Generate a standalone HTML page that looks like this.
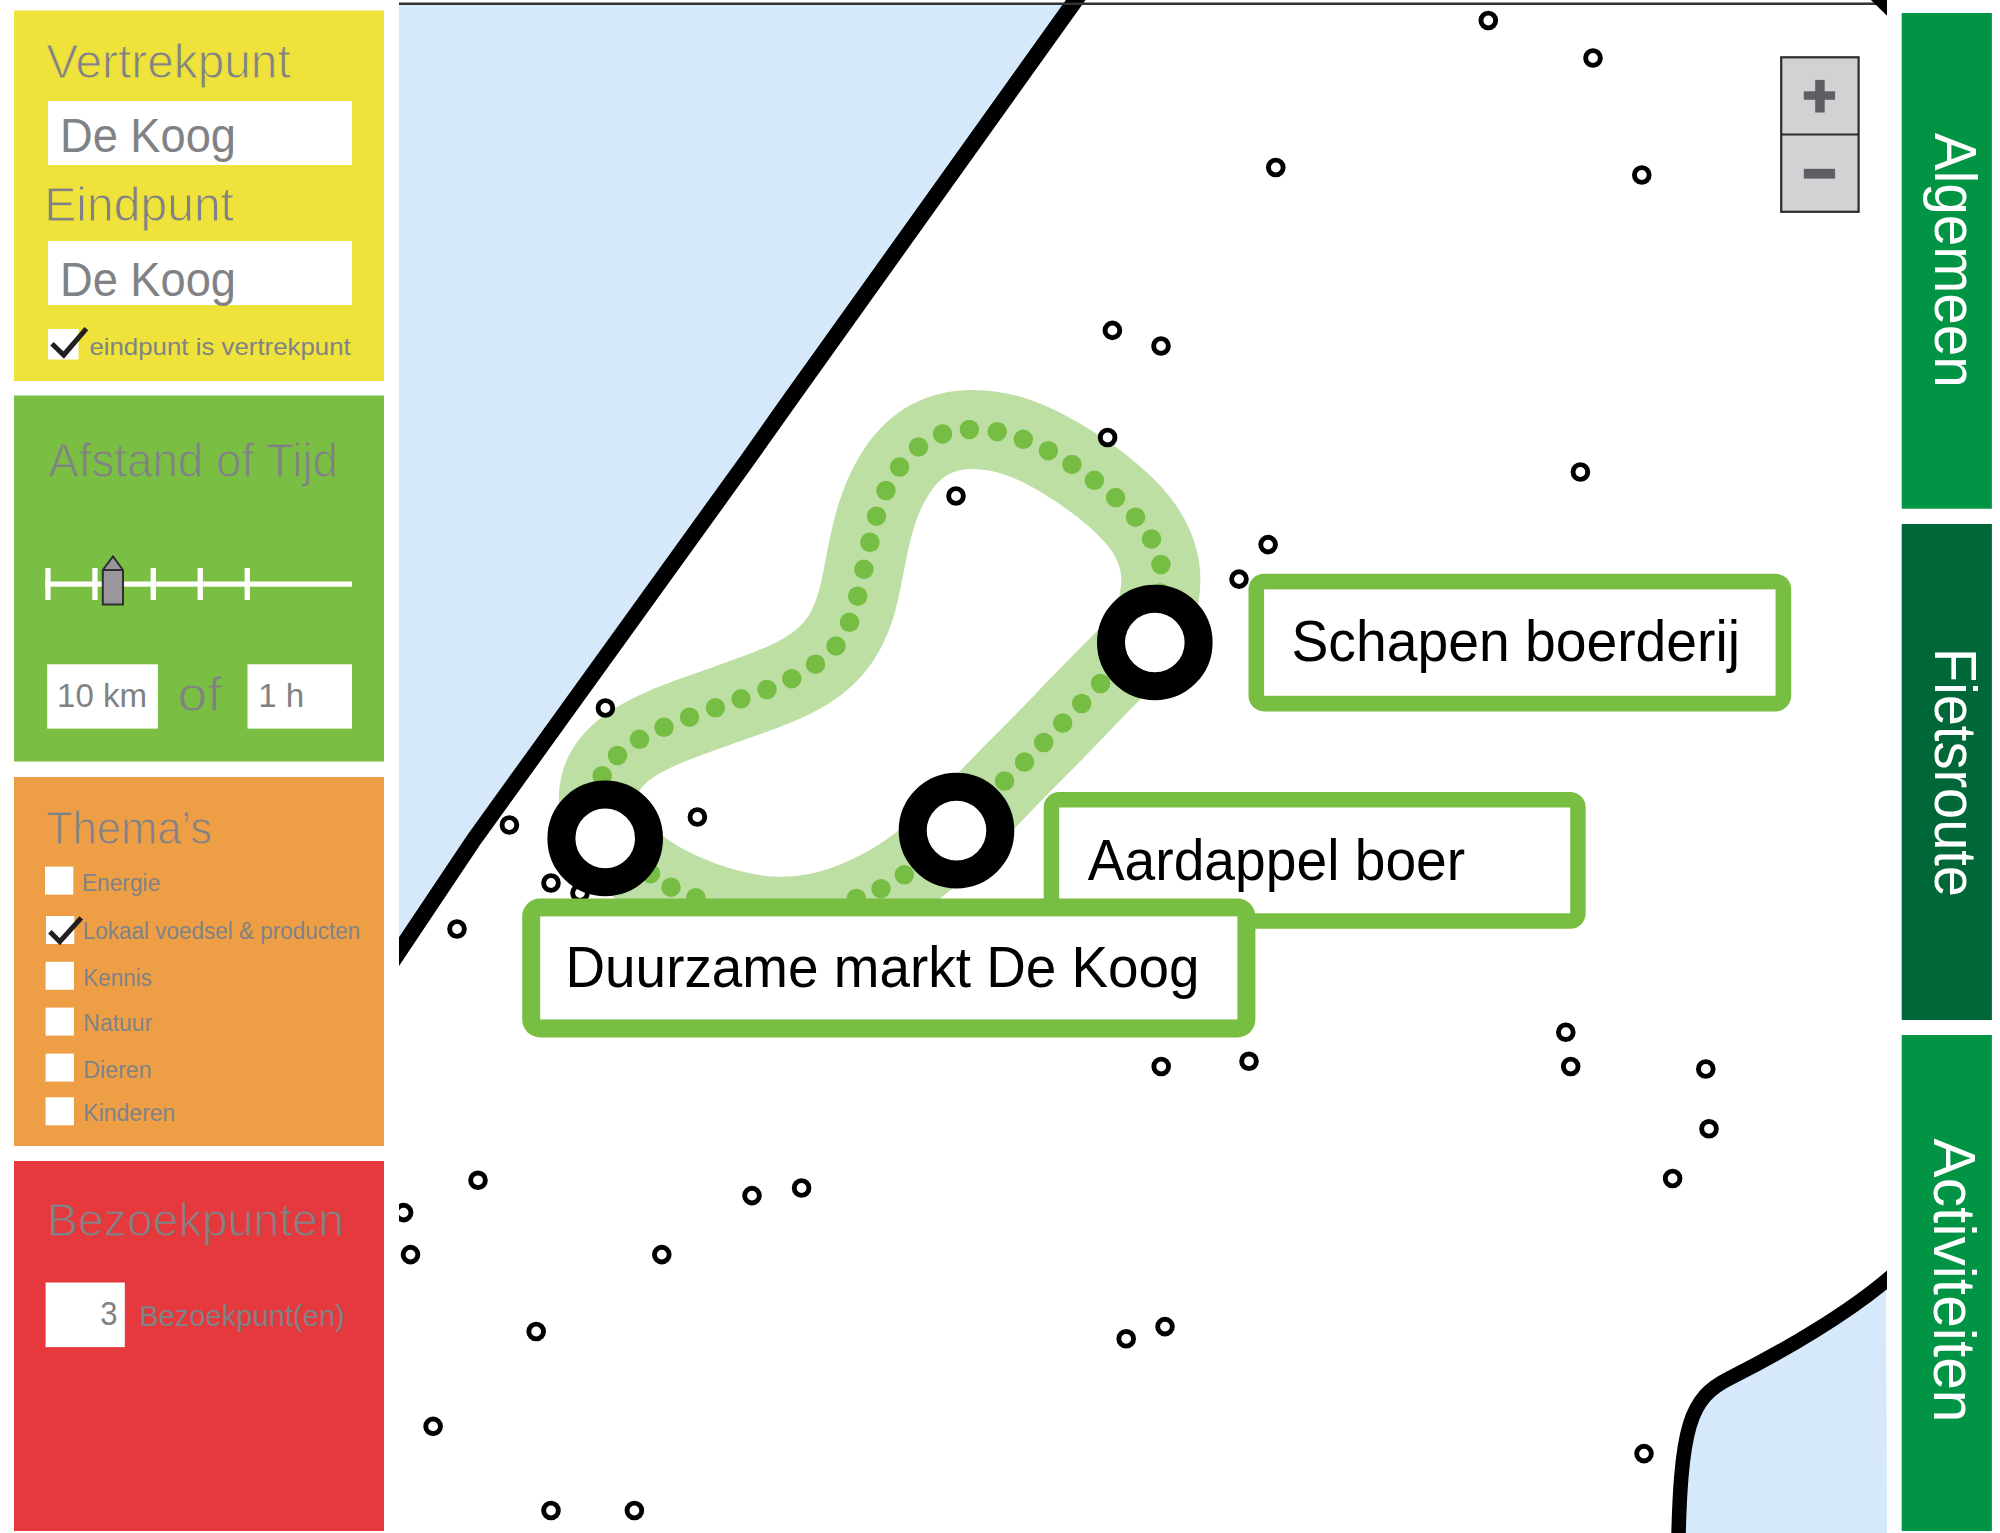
<!DOCTYPE html>
<html><head><meta charset="utf-8"><title>Fietsroute planner</title><style>
html,body{margin:0;padding:0;background:#fff;width:2000px;height:1533px;overflow:hidden}
svg{display:block}
text{font-family:"Liberation Sans", sans-serif}
</style></head><body>
<svg width="2000" height="1533" viewBox="0 0 2000 1533">
<defs><clipPath id="mapclip"><rect x="399" y="0" width="1488" height="1533"/></clipPath></defs>
<rect x="14" y="10.5" width="370" height="370.5" fill="#EEE23B"/>
<rect x="14" y="395.5" width="370" height="366" fill="#7ABF43"/>
<rect x="14" y="777" width="370" height="369" fill="#EE9F45"/>
<rect x="14" y="1161" width="370" height="370" fill="#E6393D"/>
<rect x="48" y="101" width="304" height="64" fill="#fff"/>
<rect x="48" y="241" width="304" height="64" fill="#fff"/>
<rect x="48" y="329" width="30.5" height="30.5" fill="#fff"/>
<polyline points="52,343.8 63.7,355 86.4,328.6" fill="none" stroke="#231F20" stroke-width="5"/>
<text x="46.30" y="77.6" font-size="47.5" fill="#808285" stroke="#EEE23B" stroke-width="1.0" textLength="244.40" lengthAdjust="spacingAndGlyphs">Vertrekpunt</text>
<text x="60.00" y="152.4" font-size="47.5" fill="#808285" textLength="176.00" lengthAdjust="spacingAndGlyphs">De Koog</text>
<text x="44.20" y="220.5" font-size="48" fill="#808285" stroke="#EEE23B" stroke-width="1.0" textLength="189.80" lengthAdjust="spacingAndGlyphs">Eindpunt</text>
<text x="60.00" y="296.2" font-size="47.5" fill="#808285" textLength="176.00" lengthAdjust="spacingAndGlyphs">De Koog</text>
<text x="89.40" y="355" font-size="24.5" fill="#808285" textLength="261.40" lengthAdjust="spacingAndGlyphs">eindpunt is vertrekpunt</text>
<text x="48.20" y="477" font-size="48" fill="#808285" stroke="#7ABF43" stroke-width="1.0" textLength="289.80" lengthAdjust="spacingAndGlyphs">Afstand of Tijd</text>
<rect x="45" y="581.5" width="307" height="5.2" fill="#fff"/>
<rect x="45.3" y="568" width="5.3" height="32" fill="#fff"/>
<rect x="92.3" y="568" width="5.3" height="32" fill="#fff"/>
<rect x="150.6" y="568" width="5.3" height="32" fill="#fff"/>
<rect x="197.6" y="568" width="5.3" height="32" fill="#fff"/>
<rect x="244.6" y="568" width="5.3" height="32" fill="#fff"/>
<path d="M102.8,570 L113,556.5 L123,570 L123,604.5 L102.8,604.5 Z" fill="#99979C" stroke="#2F2F31" stroke-width="2"/>
<line x1="102.8" y1="570" x2="123" y2="570" stroke="#2F2F31" stroke-width="2"/>
<rect x="47.2" y="664.3" width="110.7" height="64.3" fill="#fff"/>
<rect x="247.5" y="664.3" width="104.5" height="64.3" fill="#fff"/>
<text x="57.00" y="707" font-size="32.5" fill="#808285" textLength="90.00" lengthAdjust="spacingAndGlyphs">10 km</text>
<text x="177.60" y="711" font-size="48" fill="#808285" stroke="#7ABF43" stroke-width="1.0" textLength="44.60" lengthAdjust="spacingAndGlyphs">of</text>
<text x="258.20" y="707" font-size="32.5" fill="#808285" textLength="46.00" lengthAdjust="spacingAndGlyphs">1 h</text>
<text x="46.00" y="844" font-size="46.5" fill="#808285" stroke="#EE9F45" stroke-width="1.0" textLength="166.00" lengthAdjust="spacingAndGlyphs">Thema’s</text>
<rect x="45" y="866.6" width="28.3" height="28" fill="#fff"/>
<rect x="46" y="916" width="28.3" height="28" fill="#fff"/>
<rect x="45.6" y="961.8" width="28.3" height="28" fill="#fff"/>
<rect x="45.6" y="1007.6" width="28.3" height="28" fill="#fff"/>
<rect x="45.6" y="1053.6" width="28.3" height="28" fill="#fff"/>
<rect x="45.6" y="1097.3" width="28.3" height="28" fill="#fff"/>
<text x="81.90" y="890.5" font-size="23" fill="#808285" textLength="78.40" lengthAdjust="spacingAndGlyphs">Energie</text>
<text x="82.70" y="938.9" font-size="23" fill="#808285" textLength="277.70" lengthAdjust="spacingAndGlyphs">Lokaal voedsel &amp; producten</text>
<text x="83.30" y="986.1" font-size="23" fill="#808285" textLength="68.60" lengthAdjust="spacingAndGlyphs">Kennis</text>
<text x="83.30" y="1031.3" font-size="23" fill="#808285" textLength="69.00" lengthAdjust="spacingAndGlyphs">Natuur</text>
<text x="83.30" y="1077.7" font-size="23" fill="#808285" textLength="68.40" lengthAdjust="spacingAndGlyphs">Dieren</text>
<text x="83.30" y="1121" font-size="23" fill="#808285" textLength="92.10" lengthAdjust="spacingAndGlyphs">Kinderen</text>
<polyline points="49.9,931.8 59.8,941.7 81.25,917.8" fill="none" stroke="#231F20" stroke-width="5"/>
<text x="47.00" y="1235.6" font-size="46.5" fill="#808285" stroke="#E6393D" stroke-width="1.0" textLength="297.00" lengthAdjust="spacingAndGlyphs">Bezoekpunten</text>
<rect x="45.6" y="1282.5" width="79.2" height="64.6" fill="#fff"/>
<text x="100.20" y="1325.2" font-size="33" fill="#808285" textLength="17.20" lengthAdjust="spacingAndGlyphs">3</text>
<text x="139.20" y="1326" font-size="30" fill="#808285" textLength="205.60" lengthAdjust="spacingAndGlyphs">Bezoekpunt(en)</text>
<g clip-path="url(#mapclip)">
<path d="M399,5 L1076,5 L1072,4 L789.9,400 L747.5,460 L473.6,840 L399,952 Z" fill="#D5E9FB"/>
<path d="M1886,1281 C1840,1317 1760,1364 1712,1392 C1690,1405 1679,1443 1678,1533 L1887,1533 Z" fill="#D5E9FB"/>
<path d="M1090,-20 L789.9,400 L747.5,460 L473.6,840 L380,980" fill="none" stroke="#000" stroke-width="16"/>
<path d="M1895,1273 C1850,1313 1780,1353 1730,1378 C1690,1398 1680,1423 1678,1560" fill="none" stroke="#000" stroke-width="14.5"/>
<line x1="399" y1="3.8" x2="1878" y2="3.8" stroke="#333" stroke-width="2.6"/>
<polygon points="1869.9,-1 1887,-1 1887,15.7" fill="#000"/>
<path d="M606.5,829.0 C599.3,814.8 596.6,799.3 599.7,785.7 C602.7,772.1 611.5,760.2 623.1,750.6 C634.7,741.0 649.2,733.7 663.8,727.4 C678.5,721.2 693.3,716.0 708.0,710.8 C722.7,705.6 737.3,700.3 752.0,695.0 C766.8,689.6 781.7,684.1 795.8,676.8 C809.8,669.5 823.0,660.3 833.1,648.7 C843.2,637.0 850.2,622.9 855.0,608.0 C859.8,593.2 862.4,577.5 865.5,561.4 C868.5,545.3 872.0,528.7 877.1,513.0 C882.2,497.3 889.0,482.5 897.7,469.7 C906.4,457.0 917.1,446.4 929.9,439.4 C942.8,432.5 957.7,429.3 973.1,429.4 C988.6,429.4 1004.7,432.7 1019.5,437.9 C1034.3,443.1 1047.8,450.3 1061.4,458.4 C1075.0,466.6 1088.6,475.7 1101.9,486.0 C1115.1,496.4 1128.1,507.9 1138.1,520.4 C1148.1,532.9 1155.1,546.4 1158.4,560.0 C1161.8,573.7 1161.5,587.5 1158.6,600.9 C1155.6,614.4 1150.0,627.6 1141.3,639.7 C1132.6,651.9 1120.8,663.2 1109.4,674.6 C1097.9,686.0 1086.8,697.5 1075.9,708.9 C1065.0,720.2 1054.4,731.3 1043.5,742.4 C1032.6,753.5 1021.4,764.5 1010.5,775.6 C999.7,786.8 989.0,798.0 978.3,809.2 C967.6,820.4 956.9,831.6 945.2,842.5 C933.4,853.4 920.8,864.0 907.1,873.3 C893.5,882.7 878.7,890.8 863.9,897.4 C849.0,904.1 834.1,909.2 818.7,912.4 C803.4,915.6 787.7,916.8 772.1,916.0 C756.4,915.2 740.8,912.3 725.7,908.2 C710.6,904.1 695.9,898.8 681.3,892.1 C666.7,885.5 652.1,877.6 638.9,867.0 C625.7,856.5 613.8,843.3 606.5,829.0 Z" fill="none" stroke="#BDDFA4" stroke-width="79" stroke-linejoin="round"/>
<circle cx="602.2" cy="775.7" r="9.75" fill="#76BD43"/>
<circle cx="617.5" cy="755.5" r="9.75" fill="#76BD43"/>
<circle cx="639.5" cy="739.3" r="9.75" fill="#76BD43"/>
<circle cx="664" cy="727.3" r="9.75" fill="#76BD43"/>
<circle cx="689.5" cy="717.2" r="9.75" fill="#76BD43"/>
<circle cx="715.4" cy="707.8" r="9.75" fill="#76BD43"/>
<circle cx="741" cy="698.8" r="9.75" fill="#76BD43"/>
<circle cx="767" cy="689.5" r="9.75" fill="#76BD43"/>
<circle cx="791.8" cy="678.7" r="9.75" fill="#76BD43"/>
<circle cx="815.5" cy="664.2" r="9.75" fill="#76BD43"/>
<circle cx="836" cy="645.9" r="9.75" fill="#76BD43"/>
<circle cx="849.5" cy="622.3" r="9.75" fill="#76BD43"/>
<circle cx="857.7" cy="596.2" r="9.75" fill="#76BD43"/>
<circle cx="863.9" cy="569.3" r="9.75" fill="#76BD43"/>
<circle cx="869.9" cy="542.3" r="9.75" fill="#76BD43"/>
<circle cx="876.5" cy="516.2" r="9.75" fill="#76BD43"/>
<circle cx="885.9" cy="490.5" r="9.75" fill="#76BD43"/>
<circle cx="899.6" cy="467" r="9.75" fill="#76BD43"/>
<circle cx="918.5" cy="446.9" r="9.75" fill="#76BD43"/>
<circle cx="942.5" cy="433.9" r="9.75" fill="#76BD43"/>
<circle cx="969.4" cy="429.5" r="9.75" fill="#76BD43"/>
<circle cx="997.2" cy="431.7" r="9.75" fill="#76BD43"/>
<circle cx="1023.3" cy="439.3" r="9.75" fill="#76BD43"/>
<circle cx="1048.4" cy="450.7" r="9.75" fill="#76BD43"/>
<circle cx="1071.9" cy="464.4" r="9.75" fill="#76BD43"/>
<circle cx="1094.4" cy="480.3" r="9.75" fill="#76BD43"/>
<circle cx="1115.6" cy="497.6" r="9.75" fill="#76BD43"/>
<circle cx="1135.5" cy="517.2" r="9.75" fill="#76BD43"/>
<circle cx="1151.5" cy="539" r="9.75" fill="#76BD43"/>
<circle cx="1160.9" cy="564.5" r="9.75" fill="#76BD43"/>
<circle cx="1160" cy="593" r="9.75" fill="#76BD43"/>
<circle cx="1100.5" cy="683.5" r="9.75" fill="#76BD43"/>
<circle cx="1081.7" cy="703.5" r="9.75" fill="#76BD43"/>
<circle cx="1062.7" cy="723" r="9.75" fill="#76BD43"/>
<circle cx="1043.7" cy="742.5" r="9.75" fill="#76BD43"/>
<circle cx="1024.5" cy="762" r="9.75" fill="#76BD43"/>
<circle cx="1004.5" cy="781" r="9.75" fill="#76BD43"/>
<circle cx="904.3" cy="874.8" r="9.75" fill="#76BD43"/>
<circle cx="881" cy="888.7" r="9.75" fill="#76BD43"/>
<circle cx="856.3" cy="898.5" r="9.75" fill="#76BD43"/>
<circle cx="695.8" cy="897.7" r="9.75" fill="#76BD43"/>
<circle cx="671" cy="887.2" r="9.75" fill="#76BD43"/>
<circle cx="650.5" cy="873.7" r="9.75" fill="#76BD43"/>
<circle cx="1488.3" cy="20.5" r="7.35" fill="#fff" stroke="#000" stroke-width="4.9"/>
<circle cx="1593" cy="58" r="7.35" fill="#fff" stroke="#000" stroke-width="4.9"/>
<circle cx="1275.8" cy="167.5" r="7.35" fill="#fff" stroke="#000" stroke-width="4.9"/>
<circle cx="1641.8" cy="175" r="7.35" fill="#fff" stroke="#000" stroke-width="4.9"/>
<circle cx="1112.4" cy="330.4" r="7.35" fill="#fff" stroke="#000" stroke-width="4.9"/>
<circle cx="1161" cy="346" r="7.35" fill="#fff" stroke="#000" stroke-width="4.9"/>
<circle cx="1107.6" cy="437.5" r="7.35" fill="#fff" stroke="#000" stroke-width="4.9"/>
<circle cx="1580.4" cy="472" r="7.35" fill="#fff" stroke="#000" stroke-width="4.9"/>
<circle cx="956" cy="496" r="7.35" fill="#fff" stroke="#000" stroke-width="4.9"/>
<circle cx="1268.1" cy="544.6" r="7.35" fill="#fff" stroke="#000" stroke-width="4.9"/>
<circle cx="1239" cy="579.1" r="7.35" fill="#fff" stroke="#000" stroke-width="4.9"/>
<circle cx="605.4" cy="708" r="7.35" fill="#fff" stroke="#000" stroke-width="4.9"/>
<circle cx="509.4" cy="825" r="7.35" fill="#fff" stroke="#000" stroke-width="4.9"/>
<circle cx="697.4" cy="817" r="7.35" fill="#fff" stroke="#000" stroke-width="4.9"/>
<circle cx="551" cy="883" r="7.35" fill="#fff" stroke="#000" stroke-width="4.9"/>
<circle cx="580" cy="893" r="7.35" fill="#fff" stroke="#000" stroke-width="4.9"/>
<circle cx="457" cy="929" r="7.35" fill="#fff" stroke="#000" stroke-width="4.9"/>
<circle cx="1565.8" cy="1032.2" r="7.35" fill="#fff" stroke="#000" stroke-width="4.9"/>
<circle cx="1161.2" cy="1066.5" r="7.35" fill="#fff" stroke="#000" stroke-width="4.9"/>
<circle cx="1249" cy="1061.3" r="7.35" fill="#fff" stroke="#000" stroke-width="4.9"/>
<circle cx="1570.7" cy="1066.5" r="7.35" fill="#fff" stroke="#000" stroke-width="4.9"/>
<circle cx="1705.8" cy="1069" r="7.35" fill="#fff" stroke="#000" stroke-width="4.9"/>
<circle cx="1709" cy="1128.8" r="7.35" fill="#fff" stroke="#000" stroke-width="4.9"/>
<circle cx="478" cy="1180.3" r="7.35" fill="#fff" stroke="#000" stroke-width="4.9"/>
<circle cx="1672.6" cy="1178.5" r="7.35" fill="#fff" stroke="#000" stroke-width="4.9"/>
<circle cx="752" cy="1195.6" r="7.35" fill="#fff" stroke="#000" stroke-width="4.9"/>
<circle cx="801.6" cy="1188" r="7.35" fill="#fff" stroke="#000" stroke-width="4.9"/>
<circle cx="403.6" cy="1212.6" r="7.35" fill="#fff" stroke="#000" stroke-width="4.9"/>
<circle cx="410.5" cy="1254.6" r="7.35" fill="#fff" stroke="#000" stroke-width="4.9"/>
<circle cx="661.8" cy="1254.6" r="7.35" fill="#fff" stroke="#000" stroke-width="4.9"/>
<circle cx="536.2" cy="1331.5" r="7.35" fill="#fff" stroke="#000" stroke-width="4.9"/>
<circle cx="1126.2" cy="1338.8" r="7.35" fill="#fff" stroke="#000" stroke-width="4.9"/>
<circle cx="1165" cy="1326.6" r="7.35" fill="#fff" stroke="#000" stroke-width="4.9"/>
<circle cx="433.1" cy="1426.4" r="7.35" fill="#fff" stroke="#000" stroke-width="4.9"/>
<circle cx="1644" cy="1453.6" r="7.35" fill="#fff" stroke="#000" stroke-width="4.9"/>
<circle cx="551" cy="1510.5" r="7.35" fill="#fff" stroke="#000" stroke-width="4.9"/>
<circle cx="634.4" cy="1510.5" r="7.35" fill="#fff" stroke="#000" stroke-width="4.9"/>
<circle cx="605.2" cy="838.4" r="43.8" fill="#fff" stroke="#000" stroke-width="28"/>
<circle cx="956.5" cy="830.6" r="43.8" fill="#fff" stroke="#000" stroke-width="28"/>
<circle cx="1154.8" cy="642.5" r="43.8" fill="#fff" stroke="#000" stroke-width="28"/>
<rect x="1248.5" y="573.8" width="542.7" height="137.6" rx="15.6" ry="15.6" fill="#78BE43"/>
<rect x="1264.1" y="589.4" width="511.5" height="106.4" fill="#fff"/>
<text x="1291.50" y="660.8" font-size="58" fill="#000" textLength="448.50" lengthAdjust="spacingAndGlyphs">Schapen boerderij</text>
<rect x="1043.7" y="792" width="542.0" height="136.8" rx="15.5" ry="15.5" fill="#78BE43"/>
<rect x="1059.2" y="807.5" width="511.0" height="105.8" fill="#fff"/>
<text x="1087.80" y="879.7" font-size="58" fill="#000" textLength="377.40" lengthAdjust="spacingAndGlyphs">Aardappel boer</text>
<rect x="522.2" y="898.4" width="733.2" height="139.0" rx="18" ry="18" fill="#78BE43"/>
<rect x="540.2" y="916.4" width="697.2" height="103.0" fill="#fff"/>
<text x="565.50" y="987" font-size="58" fill="#000" textLength="634.10" lengthAdjust="spacingAndGlyphs">Duurzame markt De Koog</text>
<rect x="1781.2" y="57.3" width="77.4" height="154.5" fill="#D1D2D4" stroke="#2B2B2D" stroke-width="2.2"/>
<line x1="1781.2" y1="134.5" x2="1858.6" y2="134.5" stroke="#2B2B2D" stroke-width="2.2"/>
<rect x="1803.8" y="91.3" width="31.3" height="8.5" fill="#5E5E63"/>
<rect x="1815.2" y="79.9" width="9.5" height="32.6" fill="#5E5E63"/>
<rect x="1803.8" y="168.8" width="31.3" height="9.8" fill="#5E5E63"/>
</g>
<rect x="1901.7" y="13" width="90.2" height="495.7" fill="#009444"/>
<rect x="1901.7" y="524" width="90.2" height="496" fill="#006838"/>
<rect x="1901.7" y="1035" width="90.2" height="496" fill="#009444"/>
<text transform="translate(1935.2,133.10) rotate(90)" x="0" y="0" font-size="59.5" fill="#fff" textLength="254.50" lengthAdjust="spacingAndGlyphs">Algemeen</text>
<text transform="translate(1934.8,648.10) rotate(90)" x="0" y="0" font-size="59.5" fill="#fff" textLength="248.90" lengthAdjust="spacingAndGlyphs">Fietsroute</text>
<text transform="translate(1934.4,1138.60) rotate(90)" x="0" y="0" font-size="59.5" fill="#fff" textLength="283.90" lengthAdjust="spacingAndGlyphs">Activiteiten</text>
</svg></body></html>
